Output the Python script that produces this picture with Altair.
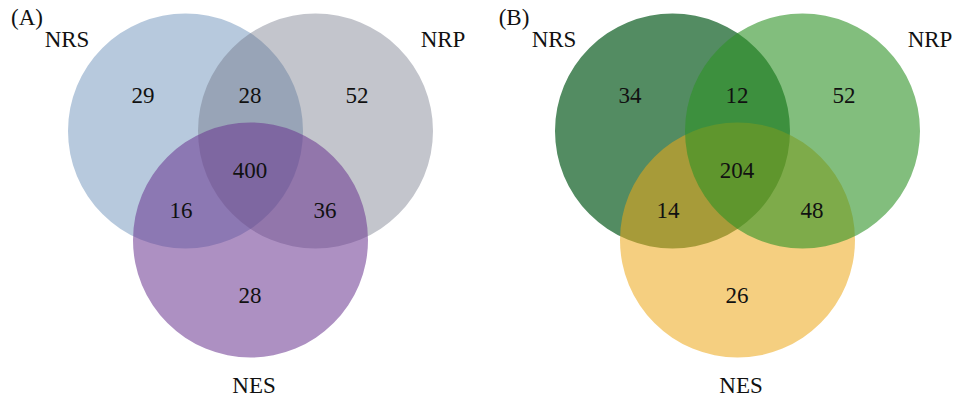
import altair as alt
import pandas as pd

# Set names and region counts for the two three-set Venn diagrams
set_names = ["NRS", "NRP", "NES"]
panels = ["(A)", "(B)"]

# Region order: NRS only, NRS∩NRP, NRP only, all three, NRS∩NES, NRP∩NES, NES only
region_keys = ["NRS", "NRS&NRP", "NRP", "ALL", "NRS&NES", "NRP&NES", "NES"]
counts_a = [29, 28, 52, 400, 16, 36, 28]
counts_b = [34, 12, 52, 204, 14, 48, 26]

# ---- layout (pixel coordinates of the canvas) ----
W, H = 954, 399
R = 117.5
panel_dx = 487  # horizontal offset of panel B

circle_centers = {"NRS": (185.5, 131), "NRP": (315.5, 131), "NES": (250.5, 240)}
region_anchor = {
    "NRS": (143, 103), "NRS&NRP": (250, 103), "NRP": (357, 103),
    "ALL": (250, 178), "NRS&NES": (181, 218), "NRP&NES": (325, 218),
    "NES": (250, 303),
}
name_anchor = {"NRS": (67, 47), "NRP": (443, 47), "NES": (254, 393)}
panel_tag_anchor = (27, 25)

# fill colours / opacities and drawing order per panel
styles = {
    "(A)": {"order": ["NRS", "NRP", "NES"],
            "NRS": ("#87a5c6", 0.6), "NRP": ("#696e7f", 0.4), "NES": ("#6a3590", 0.55)},
    "(B)": {"order": ["NRS", "NES", "NRP"],
            "NRS": ("#286f3b", 0.8), "NES": ("#eca718", 0.55), "NRP": ("#2e9226", 0.6)},
}

circle_rows, count_rows, name_rows, tag_rows = [], [], [], []
for p_i, panel in enumerate(panels):
    ox = p_i * panel_dx
    counts = counts_a if p_i == 0 else counts_b
    for k, name in enumerate(styles[panel]["order"]):
        col, op = styles[panel][name]
        cx, cy = circle_centers[name]
        circle_rows.append({"panel": panel, "set": name, "x": cx + ox, "y": cy,
                            "fill": col, "alpha": op, "z": p_i * 10 + k})
    for key, val in zip(region_keys, counts):
        x, y = region_anchor[key]
        count_rows.append({"x": x + ox, "y": y, "label": str(val)})
    for name in set_names:
        x, y = name_anchor[name]
        name_rows.append({"x": x + ox, "y": y, "label": name})
    tag_rows.append({"x": panel_tag_anchor[0] + ox, "y": panel_tag_anchor[1], "label": panel})

xs = alt.Scale(domain=[0, W], range=[0, W], nice=False, zero=False)
ys = alt.Scale(domain=[0, H], range=[0, H], nice=False, zero=False)
X = lambda: alt.X("x:Q", scale=xs, axis=None)
Y = lambda: alt.Y("y:Q", scale=ys, axis=None)

# Vega symbol size is the area of the bounding square: (2R)^2
circles = alt.Chart(pd.DataFrame(circle_rows)).mark_circle(
    size=(2 * R) ** 2, strokeWidth=0
).encode(
    x=X(), y=Y(),
    color=alt.Color("fill:N", scale=None),
    opacity=alt.Opacity("alpha:Q", scale=None),
    order=alt.Order("z:Q"),
)

FONT = "Liberation Serif"
text_style = dict(font=FONT, fontSize=23, baseline="alphabetic", align="center", color="#111111")

count_text = alt.Chart(pd.DataFrame(count_rows)).mark_text(**text_style).encode(
    x=X(), y=Y(), text="label:N")
name_text = alt.Chart(pd.DataFrame(name_rows)).mark_text(**text_style).encode(
    x=X(), y=Y(), text="label:N")
tag_text = alt.Chart(pd.DataFrame(tag_rows)).mark_text(**text_style).encode(
    x=X(), y=Y(), text="label:N")

chart = alt.layer(circles, count_text, name_text, tag_text).properties(
    width=W, height=H, padding=0, autosize=alt.AutoSizeParams(type="none"),
    background="white",
).configure_view(stroke=None)

chart.save("out.html", embed_options={"renderer": "svg", "actions": False})
